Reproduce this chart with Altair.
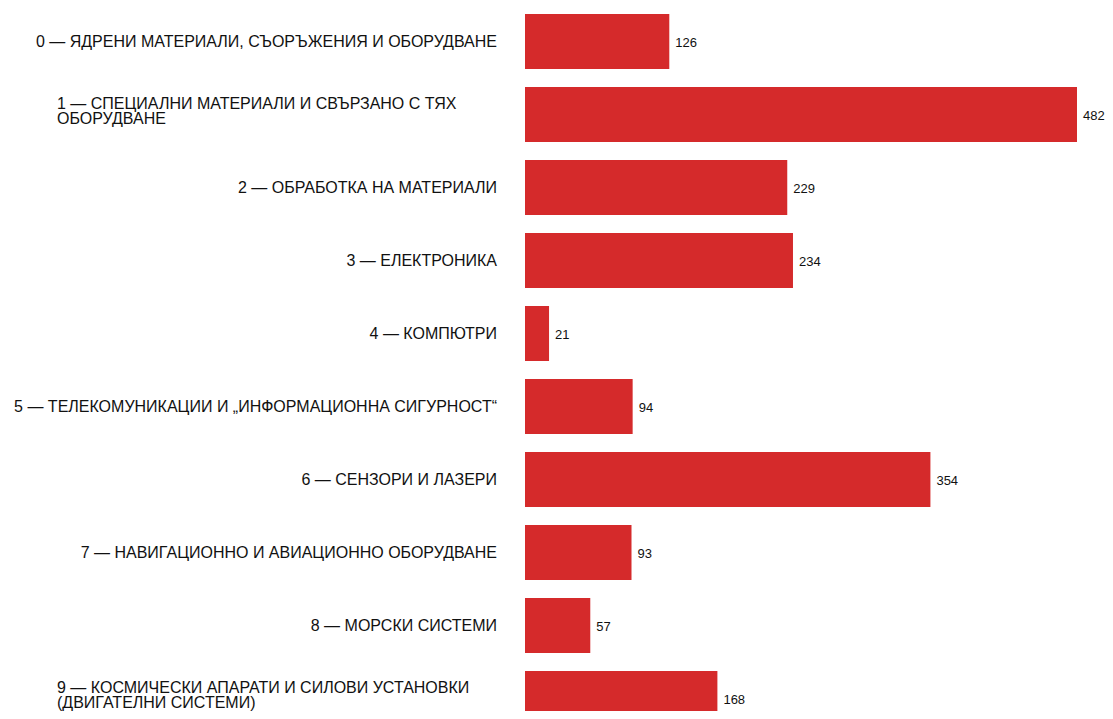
import altair as alt
import pandas as pd

labels = [
    "0 — ЯДРЕНИ МАТЕРИАЛИ, СЪОРЪЖЕНИЯ И ОБОРУДВАНЕ",
    "1 — СПЕЦИАЛНИ МАТЕРИАЛИ И СВЪРЗАНО С ТЯХ\nОБОРУДВАНЕ",
    "2 — ОБРАБОТКА НА МАТЕРИАЛИ",
    "3 — ЕЛЕКТРОНИКА",
    "4 — КОМПЮТРИ",
    "5 — ТЕЛЕКОМУНИКАЦИИ И „ИНФОРМАЦИОННА СИГУРНОСТ“",
    "6 — СЕНЗОРИ И ЛАЗЕРИ",
    "7 — НАВИГАЦИОННО И АВИАЦИОННО ОБОРУДВАНЕ",
    "8 — МОРСКИ СИСТЕМИ",
    "9 — КОСМИЧЕСКИ АПАРАТИ И СИЛОВИ УСТАНОВКИ\n(ДВИГАТЕЛНИ СИСТЕМИ)",
]
values = [126, 482, 229, 234, 21, 94, 354, 93, 57, 168]

df = pd.DataFrame({
    "idx": list(range(len(labels))),
    "label": labels,
    "value": values,
    "multi": ["\n" in l for l in labels],
})

RED = "#d52a2b"
FONT = "Liberation Sans"
HALF = 0.377
STEP = 73.0
H = 703
ytop = -HALF - 6 / STEP
ybot = ytop + H / STEP

yscale = alt.Scale(domain=[ytop, ybot], reverse=True, nice=False, zero=False)
xscale = alt.Scale(domain=[0, 482], nice=False, zero=True)

base = alt.Chart(df)

bars = base.transform_calculate(
    y0="datum.idx - %f" % HALF, y1="datum.idx + %f" % HALF
).mark_rect(color=RED, clip=True).encode(
    x=alt.X("value:Q", scale=xscale, axis=None),
    x2=alt.datum(0),
    y=alt.Y("y0:Q", scale=yscale, axis=None),
    y2="y1:Q",
)

vals = base.mark_text(
    align="left", baseline="middle", dx=6, dy=1, font=FONT, fontSize=13, color="#111"
).encode(
    x=alt.X("value:Q", scale=xscale, axis=None),
    y=alt.Y("idx:Q", scale=yscale, axis=None),
    text="value:Q",
)

single = base.transform_filter("!datum.multi").mark_text(
    align="right", baseline="middle", font=FONT, fontSize=16, color="#111"
).encode(
    x=alt.value(-28),
    y=alt.Y("idx:Q", scale=yscale, axis=None),
    text="label:N",
)

multi = base.transform_filter("datum.multi").mark_text(
    align="left", baseline="middle", font=FONT, fontSize=16, color="#111",
    lineBreak="\n", lineHeight=15, dy=-11,
).encode(
    x=alt.value(-468),
    y=alt.Y("idx:Q", scale=yscale, axis=None),
    text="label:N",
)

chart = alt.layer(bars, vals, single, multi).properties(
    width=552, height=H,
    background="white",
    autosize=alt.AutoSizeParams(type="none"),
    padding={"left": 517, "right": 28, "top": 0, "bottom": 0},
).configure_view(strokeWidth=0, stroke="transparent")

chart.save("out.html", embed_options={"renderer": "svg", "actions": False})
